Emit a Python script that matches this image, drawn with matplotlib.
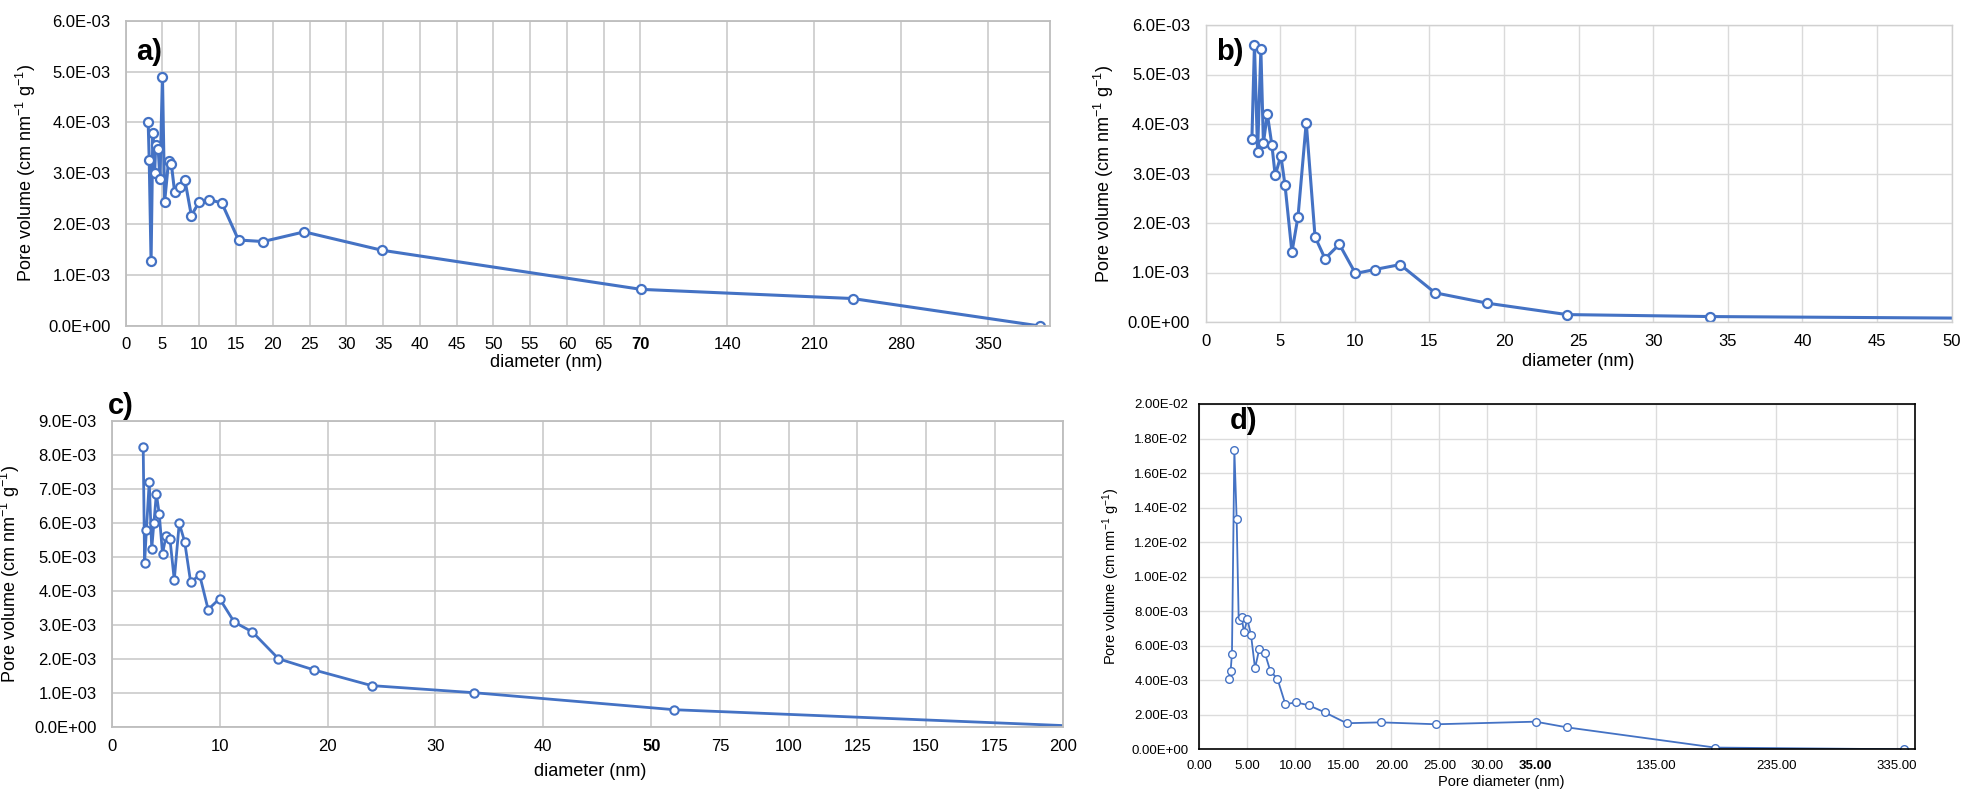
import numpy as np
import matplotlib.pyplot as plt

plt.rcParams['font.family'] = ['Liberation Sans', 'DejaVu Sans']
plt.rcParams['mathtext.fontset'] = 'custom'
plt.rcParams['mathtext.rm'] = 'Liberation Sans'
plt.rcParams['mathtext.it'] = 'Liberation Sans:italic'
plt.rcParams['mathtext.bf'] = 'Liberation Sans:bold'

BLUE = '#4472C4'

# a) pore diameter (nm) and pore volume (x1e-3)
a_d = [3.06, 3.2, 3.45, 3.69, 3.93, 4.08, 4.42, 4.66, 5.0, 5.29, 5.83, 6.21, 6.65,
       7.33, 8.06, 8.93, 9.95, 11.36, 13.06, 15.34, 18.69, 24.27, 34.8, 70.5, 241, 392]
a_v = [4.00, 3.27, 1.28, 3.79, 3.00, 3.56, 3.48, 2.89, 4.90, 2.44, 3.24, 3.18, 2.64,
       2.74, 2.86, 2.17, 2.43, 2.48, 2.42, 1.69, 1.66, 1.85, 1.49, 0.72, 0.54, 0.0]

# b)
b_d = [3.11, 3.28, 3.49, 3.71, 3.88, 4.14, 4.45, 4.67, 5.05, 5.33, 5.79, 6.2, 6.75,
       7.34, 8.01, 8.97, 10.05, 11.34, 13.04, 15.38, 18.88, 24.21, 33.83, 55]
b_v = [3.70, 5.60, 3.44, 5.51, 3.61, 4.21, 3.57, 2.96, 3.36, 2.76, 1.41, 2.13, 4.03,
       1.72, 1.28, 1.57, 0.98, 1.06, 1.16, 0.59, 0.38, 0.15, 0.11, 0.07]

# c)
c_d = [2.91, 3.04, 3.21, 3.47, 3.70, 3.90, 4.13, 4.40, 4.70, 5.03, 5.39, 5.79, 6.25,
       6.75, 7.31, 8.14, 8.93, 9.99, 11.35, 13.03, 15.45, 18.76, 24.08, 33.61, 58.4, 210]
c_v = [8.24, 4.82, 5.80, 7.21, 5.23, 5.99, 6.86, 6.26, 5.09, 5.62, 5.53, 4.32, 5.99,
       5.45, 4.25, 4.47, 3.45, 3.77, 3.08, 2.79, 2.00, 1.67, 1.21, 1.00, 0.50, 0.0]

# d)
d_d = [3.06, 3.26, 3.40, 3.65, 3.89, 4.10, 4.41, 4.65, 5.0, 5.38, 5.80, 6.25, 6.81,
       7.40, 8.13, 8.96, 10.07, 11.39, 13.06, 15.35, 18.89, 24.69, 35.03, 61.2, 184, 341]
d_v = [4.07, 4.54, 5.54, 17.34, 13.32, 7.49, 7.64, 6.78, 7.53, 6.64, 4.69, 5.83, 5.60,
       4.52, 4.09, 2.61, 2.72, 2.55, 2.14, 1.51, 1.56, 1.45, 1.60, 1.27, 0.10, 0.0]

a_xticks = [0, 5, 10, 15, 20, 25, 30, 35, 40, 45, 50, 55, 60, 65, 70, 140, 210, 280, 350]
b_xticks = list(range(0, 55, 5))
c_xticks = [0, 10, 20, 30, 40, 50, 75, 100, 125, 150, 175, 200]
d_xticks = [0, 5, 10, 15, 20, 25, 30, 35, 135, 235, 335]

W, H = 1964, 791
fig = plt.figure(figsize=(W / 100, H / 100), dpi=100)


def box(l, t, r, b):
    return [l / W, 1 - b / H, (r - l) / W, (b - t) / H]


def broken(brk, k):
    # linear up to brk, compressed by k after it (as in the original composite axes)
    def fwd(x):
        x = np.asarray(x, float)
        return np.where(x <= brk, x, brk + (x - brk) * k)

    def inv(y):
        y = np.asarray(y, float)
        return np.where(y <= brk, y, brk + (y - brk) / k)
    return fwd, inv


def style(ax, gcol, glw, scol, slw, fs):
    ax.grid(True, color=gcol, lw=glw)
    ax.set_axisbelow(True)
    for s in ax.spines.values():
        s.set_color(scol)
        s.set_linewidth(slw)
    ax.tick_params(length=0, labelsize=fs)


ylab = r'Pore volume (cm nm$^{-1}$ g$^{-1}$)'

# ---- a)
ax = fig.add_axes(box(125.7, 20.7, 1049.8, 326))
ax.set_xscale('function', functions=broken(70, 0.1687))
ax.plot(a_d, np.array(a_v) * 1e-3, color=BLUE, lw=2.2, marker='o', ms=6.5,
        mfc='white', mec=BLUE, mew=1.6)
ax.set_xlim(0, 400)
ax.set_ylim(0, 6e-3)
ax.set_xticks(a_xticks, labels=[str(t) for t in a_xticks])
ax.get_xticklabels()[a_xticks.index(70)].set_fontweight('bold')
yt = np.arange(0, 6.01e-3, 1e-3)
ax.set_yticks(yt, labels=[f'{v:.1E}' for v in yt])
style(ax, '#c6c6c6', 1.1, '#bdbdbd', 1.3, 12)
ax.tick_params(axis='x', pad=8)
ax.tick_params(axis='y', pad=11)
ax.set_ylabel(ylab, fontsize=13)
ax.yaxis.set_label_coords((37.5 - 125.7) / 924.1, 0.5)
ax.set_xlabel('diameter (nm)', fontsize=13, va='center')
ax.xaxis.set_label_coords((546 - 125.7) / 924.1, (326 - 363) / 305.3)
fig.text(149 / W, 1 - 52 / H, 'a)', fontsize=21, fontweight='bold', ha='center', va='center')

# ---- b)
ax = fig.add_axes(box(1205.5, 25, 1951.7, 322))
ax.plot(b_d, np.array(b_v) * 1e-3, color=BLUE, lw=2.2, marker='o', ms=6.5,
        mfc='white', mec=BLUE, mew=1.6)
ax.set_xlim(0, 50)
ax.set_ylim(0, 6e-3)
ax.set_xticks(b_xticks, labels=[str(t) for t in b_xticks])
ax.set_yticks(yt, labels=[f'{v:.1E}' for v in yt])
style(ax, '#dadada', 1.0, '#d0d0d0', 1.0, 12)
ax.tick_params(axis='x', pad=9)
ax.tick_params(axis='y', pad=11)
ax.set_ylabel(ylab, fontsize=13)
ax.yaxis.set_label_coords((1116 - 1205.5) / 746.2, 0.5)
ax.set_xlabel('diameter (nm)', fontsize=13, va='center')
ax.xaxis.set_label_coords((1578 - 1205.5) / 746.2, (322 - 362) / 297)
fig.text(1229.5 / W, 1 - 52.5 / H, 'b)', fontsize=21, fontweight='bold', ha='center', va='center')

# ---- c)
ax = fig.add_axes(box(111.8, 421, 1063.4, 726.7))
ax.set_xscale('function', functions=broken(50, 0.2547))
ax.plot(c_d, np.array(c_v) * 1e-3, color=BLUE, lw=2.0, marker='o', ms=6,
        mfc='white', mec=BLUE, mew=1.5)
ax.set_xlim(0, 200)
ax.set_ylim(0, 9e-3)
ax.set_xticks(c_xticks, labels=[str(t) for t in c_xticks])
ax.get_xticklabels()[c_xticks.index(50)].set_fontweight('bold')
ytc = np.arange(0, 9.01e-3, 1e-3)
ax.set_yticks(ytc, labels=[f'{v:.1E}' for v in ytc])
style(ax, '#c6c6c6', 1.1, '#bdbdbd', 1.3, 12)
ax.tick_params(axis='x', pad=9)
ax.tick_params(axis='y', pad=11)
ax.set_ylabel(ylab, fontsize=13)
ax.yaxis.set_label_coords((22 - 111.8) / 951.6, 0.5)
ax.set_xlabel('diameter (nm)', fontsize=13, va='center')
ax.xaxis.set_label_coords((590 - 111.8) / 951.6, (726.7 - 772) / 305.7)
fig.text(121 / W, 1 - 406 / H, 'c)', fontsize=21, fontweight='bold', ha='center', va='center')

# ---- d)
ax = fig.add_axes(box(1199.3, 404, 1915, 749.3))
ax.set_xscale('function', functions=broken(35, 0.1254))
ax.plot(d_d, np.array(d_v) * 1e-3, color=BLUE, lw=1.3, marker='o', ms=5.5,
        mfc='white', mec=BLUE, mew=1.0)
ax.set_xlim(0, 350)
ax.set_ylim(0, 2e-2)
ax.set_xticks(d_xticks, labels=[f'{t:.2f}' for t in d_xticks])
ax.get_xticklabels()[d_xticks.index(35)].set_fontweight('bold')
ytd = np.arange(0, 2.001e-2, 2e-3)
ax.set_yticks(ytd, labels=[f'{v:.2E}' for v in ytd])
style(ax, '#dcdcdc', 1.0, 'black', 1.2, 9.5)
ax.tick_params(axis='x', pad=8)
ax.tick_params(axis='y', pad=8)
ax.set_ylabel(ylab, fontsize=10.5)
ax.yaxis.set_label_coords((1121.7 - 1199.3) / 715.7, 0.5)
ax.set_xlabel('Pore diameter (nm)', fontsize=10.5, va='center')
ax.xaxis.set_label_coords((1501 - 1199.3) / 715.7, (749.3 - 782) / 345.3)
fig.text(1243.5 / W, 1 - 421 / H, 'd)', fontsize=21, fontweight='bold', ha='center', va='center')

fig.savefig('out.png', dpi=100, facecolor='white')
